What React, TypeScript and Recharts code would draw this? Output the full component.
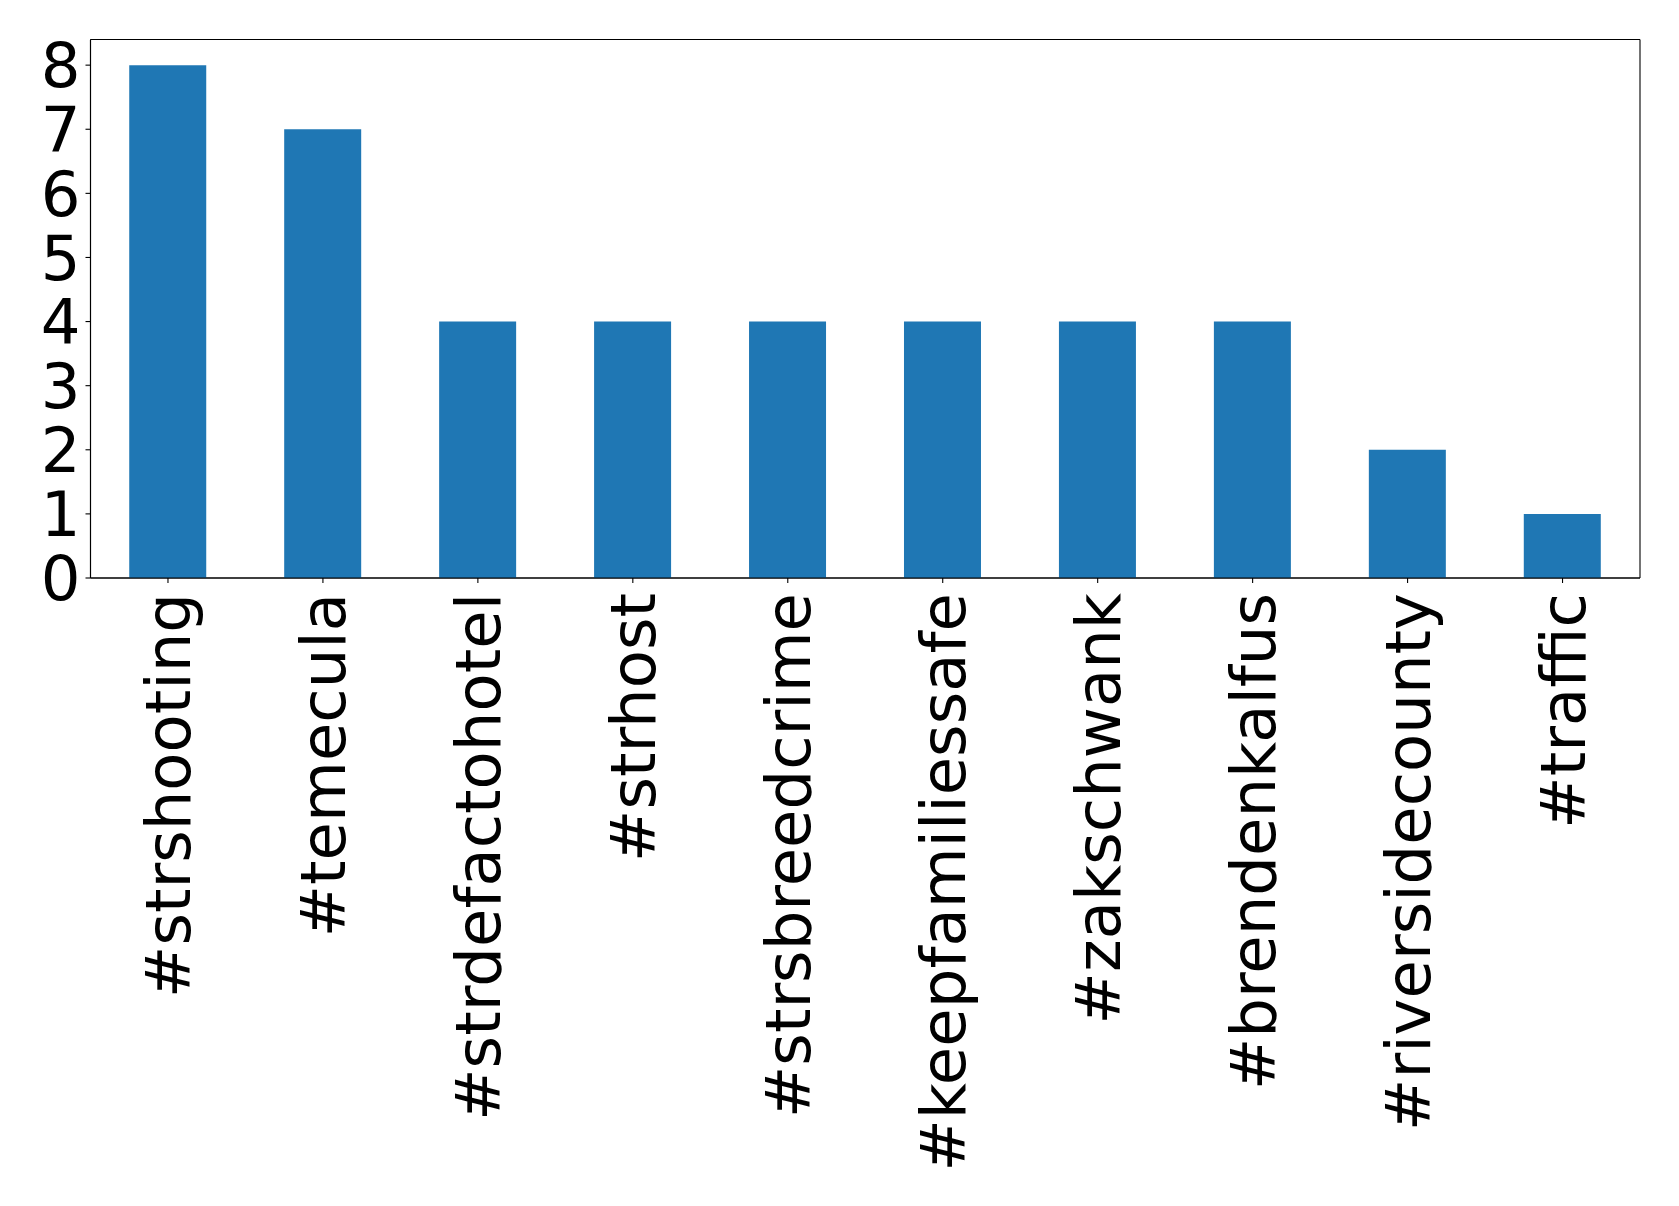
import React from "react";
import { BarChart, Bar, XAxis, YAxis, CartesianGrid } from "recharts";

const categories = [
  "#strshooting",
  "#temecula",
  "#strdefactohotel",
  "#strhost",
  "#strsbreedcrime",
  "#keepfamiliessafe",
  "#zakschwank",
  "#brendenkalfus",
  "#riversidecounty",
  "#traffic",
];
const counts = [8, 7, 4, 4, 4, 4, 4, 4, 2, 1];
const yTicks = [0, 1, 2, 3, 4, 5, 6, 7, 8];

const data = categories.map((name, i) => ({ name, value: counts[i] }));

const FONT = "'DejaVu Sans', sans-serif";
const FS = 62.5;

const XTick = (props: any) => {
  const { x, y, payload } = props;
  return (
    <g transform={`translate(${x},${y + 10}) rotate(-90)`}>
      <text x={0} y={0} dy={22} textAnchor="end" fontFamily={FONT} fontSize={FS} fill="#000">
        {payload.value}
      </text>
    </g>
  );
};

export default function App() {
  return (
    <div style={{ position: "absolute", left: 0, top: 0, background: "#fff" }}>
      <BarChart
        width={1679}
        height={1206}
        data={data}
        margin={{ top: 39.5, right: 39, left: 0, bottom: 0 }}
        barCategoryGap="25%"
      >
        <CartesianGrid
          stroke="#000"
          strokeWidth={1.1}
          fill="none"
          horizontalCoordinatesGenerator={({ offset }: any) => [offset.top, offset.top + offset.height]}
          verticalCoordinatesGenerator={({ offset }: any) => [offset.left, offset.left + offset.width]}
        />
        <XAxis
          dataKey="name"
          height={628}
          interval={0}
          tick={<XTick />}
          tickSize={5}
          tickMargin={0}
          axisLine={{ stroke: "#000", strokeWidth: 1.1 }}
          tickLine={{ stroke: "#000", strokeWidth: 1.1 }}
        />
        <YAxis
          width={90.5}
          domain={[0, 8.4]}
          ticks={yTicks}
          interval={0}
          tickSize={5}
          tickMargin={5}
          allowDataOverflow
          tick={{ fontFamily: FONT, fontSize: FS, fill: "#000" }}
          axisLine={{ stroke: "#000", strokeWidth: 1.1 }}
          tickLine={{ stroke: "#000", strokeWidth: 1.1 }}
        />
        <Bar dataKey="value" fill="#1f77b4" isAnimationActive={false} />
      </BarChart>
    </div>
  );
}
